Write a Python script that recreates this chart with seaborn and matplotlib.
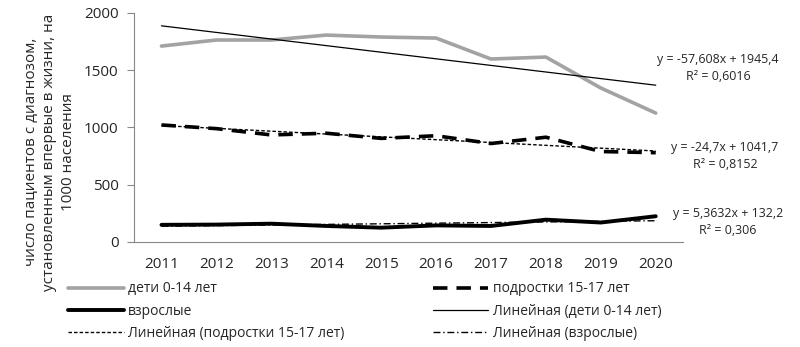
import numpy as np
import pandas as pd
import matplotlib
matplotlib.use("Agg")
import matplotlib.pyplot as plt
from matplotlib.ticker import FixedLocator
import seaborn as sns

years = [2011, 2012, 2013, 2014, 2015, 2016, 2017, 2018, 2019, 2020]
children = [1711, 1764, 1764, 1807, 1790, 1781, 1598, 1615, 1345, 1126]
teens = [1022, 990, 935, 950, 905, 928, 860, 915, 790, 780]
adults = [150, 152, 160, 140, 125, 145, 140, 195, 170, 225]

# trend coefficients as printed on the chart (x = 1..10)
trend_slope = [-57.608, -24.7, 5.3632]
trend_icpt = [1945.4, 1041.7, 132.2]
trend_r2 = ["0,6016", "0,8152", "0,306"]
trend_eq = ["y = -57,608x + 1945,4", "y = -24,7x + 1041,7", "y = 5,3632x + 132,2"]

names = ["дети 0-14 лет", "подростки 15-17 лет", "взрослые"]

sns.set_style("white")
plt.rcParams["font.family"] = ["Open Sans", "DejaVu Sans"]

fig = plt.figure(figsize=(8, 3.47), dpi=100)
ax = fig.add_axes([0.1675, 0.3026, 0.6865, 0.66])

x = np.arange(len(years))
df = pd.DataFrame({"x": x, "children": children, "teens": teens, "adults": adults})

h_ch = sns.lineplot(data=df, x="x", y="children", ax=ax, color="#a3a3a3", lw=2.6).lines[-1]
h_te = sns.lineplot(data=df, x="x", y="teens", ax=ax, color="black", lw=2.6).lines[-1]
h_te.set_dashes([4, 2.5])
h_ad = sns.lineplot(data=df, x="x", y="adults", ax=ax, color="black", lw=2.8).lines[-1]

xt = x + 1
tr = [np.array(trend_icpt[i]) + np.array(trend_slope[i]) * xt for i in range(3)]
h_tch, = ax.plot(x, tr[0], color="black", lw=0.9)
h_tte, = ax.plot(x, tr[1], color="black", lw=1.0, dashes=[2.5, 1.5])
h_tad, = ax.plot(x, tr[2], color="black", lw=1.0, dashes=[5, 2, 1, 2])

ax.set_xlim(-0.5, len(years) - 0.5)
ax.set_ylim(0, 2000)
ax.set_yticks([0, 500, 1000, 1500, 2000])
ax.set_xticks(x)
ax.set_xticklabels([str(y) for y in years])
ax.xaxis.set_minor_locator(FixedLocator(np.arange(-0.5, len(years), 1.0)))
ax.tick_params(axis="x", which="major", length=0, pad=11, labelsize=11)
ax.tick_params(axis="x", which="minor", length=5, color="#888888", width=0.8, direction="out")
ax.tick_params(axis="y", which="major", length=5, color="#888888", width=0.8, direction="out",
               labelsize=11, pad=6)
ax.tick_params(bottom=True, left=True)
for s in ["top", "right"]:
    ax.spines[s].set_visible(False)
for s in ["left", "bottom"]:
    ax.spines[s].set_color("#888888")
    ax.spines[s].set_linewidth(0.8)
ax.set_xlabel("")
ax.set_ylabel("")
fig.text(50 / 800, 1 - 152 / 347,
         "число пациентов с диагнозом,\nустановленным впервые в жизни, на\n1000 населения",
         rotation=90, ha="center", va="center", fontsize=11, linespacing=1.35,
         multialignment="center")

# trend equations
eq_pos = [(718, 60, 77), (725, 147, 165), (728, 213, 231)]
for i, (px, py1, py2) in enumerate(eq_pos):
    fig.text(px / 800, 1 - py1 / 347, trend_eq[i], ha="center", va="center", fontsize=8.9)
    fig.text(px / 800, 1 - py2 / 347, "R² = " + trend_r2[i], ha="center", va="center", fontsize=8.9)

handles = [h_ch, h_ad, h_tte, h_te, h_tch, h_tad]
labels = [names[0], names[2], "Линейная (" + names[1] + ")",
          names[1], "Линейная (" + names[0] + ")", "Линейная (" + names[2] + ")"]
fig.legend(handles, labels, ncol=2, loc="upper left", bbox_to_anchor=(0.078, 0.205),
           frameon=False, fontsize=10, handlelength=4.0, handletextpad=0.3,
           columnspacing=6.4, labelspacing=0.53, borderaxespad=0)

fig.savefig("out.png", dpi=100)
